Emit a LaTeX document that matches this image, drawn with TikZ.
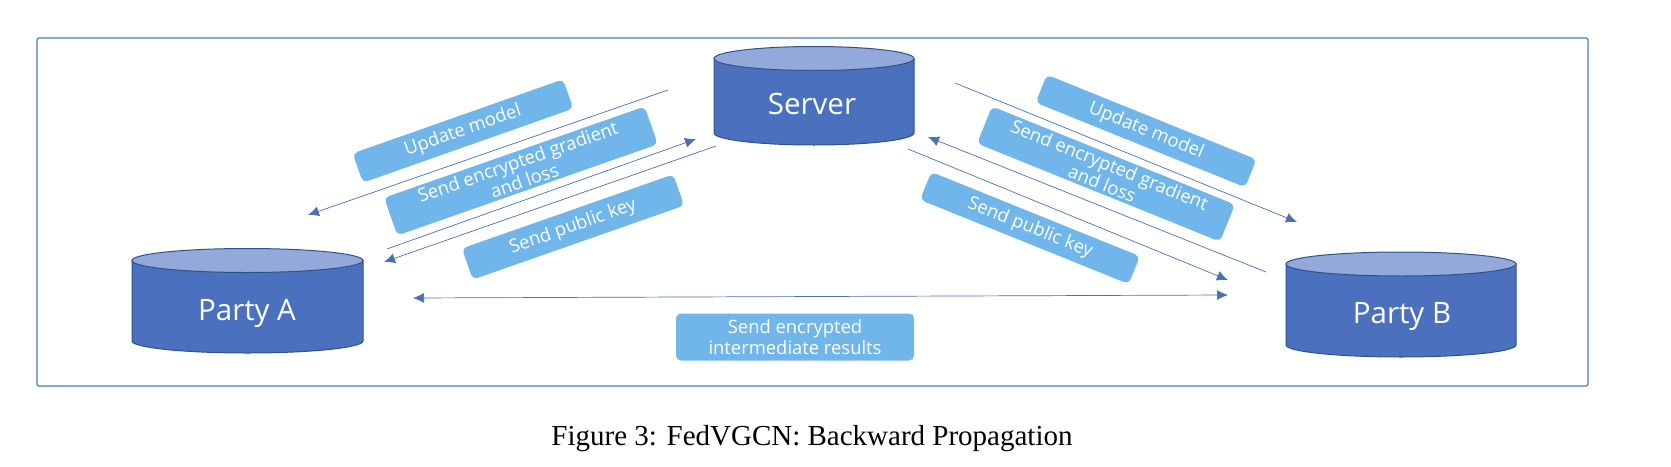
\documentclass[tikz,border=0pt]{standalone}
\usepackage{fontspec}
\setmainfont{Open Sans}
\newfontfamily\capfont{Liberation Serif}
\usetikzlibrary{arrows.meta}
\definecolor{cylbody}{HTML}{4B70BD}
\definecolor{cyltop}{HTML}{92A9D9}
\definecolor{cyledge}{HTML}{2F528F}
\definecolor{boxfill}{HTML}{70B6EB}
\definecolor{framec}{HTML}{4080B8}
\definecolor{arrowc}{HTML}{4A6EBA}
\tikzset{
  cylbodystyle/.style={fill=cylbody,draw=cyledge,line width=1pt},
  cyltopstyle/.style={fill=cyltop,draw=cyledge,line width=1pt},
  cyllabel/.style={text=white,font=\fontsize{29.5}{32}\selectfont},
  tag/.style={fill=boxfill,rounded corners=5pt,text=white,inner sep=0pt,align=center,
     font=\fontsize{18.4}{21}\selectfont,minimum width=#1},
  tag/.default=222pt,
  link/.style={draw=arrowc,line width=0.7pt,-{Latex[length=11pt,width=10pt]}},
  linkboth/.style={draw=arrowc,line width=0.7pt,{Latex[length=11pt,width=10pt]}-{Latex[length=11pt,width=10pt]}},
}
\newcommand{\drumshape}[4]{% x1, x2, ytop-centre, ybottom-side; ry=12
  \pgfmathsetmacro{\cxm}{(#1+#2)/2}
  \pgfmathsetmacro{\ax}{(#2-#1)/2*0.5523}
  \pgfmathsetmacro{\rk}{12*0.5523}
  \draw[cylbodystyle] (#1,#3) -- (#1,#4)
     .. controls (#1,#4+\rk) and (\cxm-\ax,#4+12) .. (\cxm,#4+12)
     .. controls (\cxm+\ax,#4+12) and (#2,#4+\rk) .. (#2,#4) -- (#2,#3) -- cycle;
  \draw[cyltopstyle] (#1,#3)
     .. controls (#1,#3+\rk) and (\cxm-\ax,#3+12) .. (\cxm,#3+12)
     .. controls (\cxm+\ax,#3+12) and (#2,#3+\rk) .. (#2,#3)
     .. controls (#2,#3-\rk) and (\cxm+\ax,#3-12) .. (\cxm,#3-12)
     .. controls (\cxm-\ax,#3-12) and (#1,#3-\rk) .. (#1,#3) -- cycle;
}
\begin{document}
\begin{tikzpicture}[x=1pt,y=-1pt]
\useasboundingbox (0,0) rectangle (1671,466);
\draw[draw=framec,line width=1.2pt,rounded corners=2pt] (37,38) rectangle (1588,386);

\drumshape{714}{914}{58.5}{133}
\drumshape{132}{363}{260.5}{341}
\drumshape{1286}{1516}{264}{345}
\node[cyllabel] (server) at (812,104) {Server};
\node[cyllabel] (partya) at (247,313) {Party A};
\node[cyllabel] (partyb) at (1402,317) {Party B};

\node[tag=223pt,minimum height=31pt,rotate=19.4] (lupdate) at (463,131) {Update model};
\node[tag=276pt,minimum height=40pt,rotate=19.3] (lgrad) at (521,171) {Send encrypted gradient\\[-1pt]and loss};
\node[tag=224pt,minimum height=33pt,rotate=19.3] (lkey) at (573,227) {Send public key};
\node[tag=226pt,minimum height=30pt,rotate=-22] (rupdate) at (1146,131) {Update model};
\node[tag=262pt,minimum height=40pt,rotate=-22] (rgrad) at (1106,174) {Send encrypted gradient\\[-1pt]and loss};
\node[tag=225pt,minimum height=30pt,rotate=-22] (rkey) at (1030,228) {Send public key};
\node[tag=238pt,minimum height=47pt] (bottombox) at (795,337) {Send encrypted\\intermediate results};

\coordinate (a1) at (668,90);   \coordinate (a2) at (308,215);
\coordinate (b1) at (387,249);  \coordinate (b2) at (696,139);
\coordinate (c1) at (716,146);  \coordinate (c2) at (384,262);
\coordinate (d1) at (955,83);   \coordinate (d2) at (1297,222);
\coordinate (e1) at (1266,272); \coordinate (e2) at (928,137);
\coordinate (f1) at (908,149);  \coordinate (f2) at (1228,280);
\coordinate (g1) at (413,298);  \coordinate (g2) at (1228,295);
\draw[link] (a1) -- (a2);
\draw[link] (b1) -- (b2);
\draw[link] (c1) -- (c2);
\draw[link] (d1) -- (d2);
\draw[link] (e1) -- (e2);
\draw[link] (f1) -- (f2);
\draw[linkboth] (g1) -- (g2);

\node[font=\capfont\fontsize{29}{32}\selectfont,text=black,inner sep=0pt] (caption) at (812,439) {Figure 3: FedVGCN: Backward Propagation};
\end{tikzpicture}
\end{document}
